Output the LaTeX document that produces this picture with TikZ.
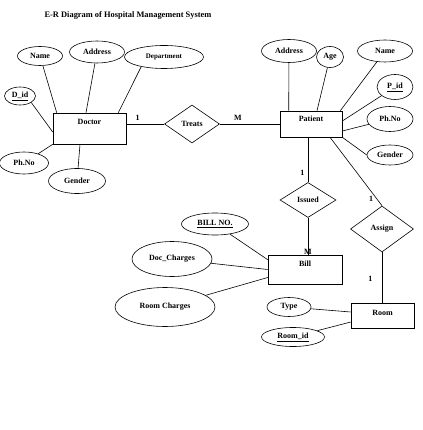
\documentclass[tikz,border=0pt]{standalone}
\usepackage{fontspec}
\setmainfont{Liberation Serif}
\usetikzlibrary{shapes.geometric}

\begin{document}
\begin{tikzpicture}[x=1pt,y=-1pt,font=\bfseries\fontsize{8}{9}\selectfont,
	entity/.style={draw,rectangle,inner sep=0pt,line width=0.6pt},
	attr/.style={draw,ellipse,inner sep=0pt,line width=0.6pt},
	rel/.style={draw,diamond,inner sep=0pt,line width=0.6pt},
	every edge/.style={draw,line width=0.6pt}]

\useasboundingbox (0,0) rectangle (422,430);

\node (title) at (128,15) {\fontsize{8.4}{9}\selectfont E-R Diagram of Hospital Management System};

% doctor
\node[entity,minimum width=73pt,text height=12pt,text depth=19pt] (doctor) at (89.5,128.5) {Doctor};
 \node[attr,minimum width=45pt,minimum height=19pt] (d_name)   at (40,56)  {Name};
 \node[attr,minimum width=55pt,minimum height=22pt] (d_addr)   at (97,52)  {Address};
 \node[attr,minimum width=79pt,minimum height=23pt,font=\bfseries\fontsize{7}{8}\selectfont] (d_dept) at (164,57) {Department};
 \node[attr,minimum width=31pt,minimum height=18pt] (d_id)     at (20,96)  {\underline{D\_id}};
 \node[attr,minimum width=49pt,minimum height=22pt] (d_phno)   at (24,163) {Ph.No};
 \node[attr,minimum width=57pt,minimum height=25pt] (d_gender) at (77,181) {Gender};

\node[rel,minimum width=55pt,minimum height=38pt] (treats) at (192,124) {Treats};

% patient
\node[entity,minimum width=62pt,text height=11pt,text depth=15pt] (patient) at (311,124) {Patient};
 \node[attr,minimum width=55pt,minimum height=23pt] (p_addr)   at (289,51)  {Address};
 \node[attr,minimum width=27pt,minimum height=21pt] (p_age)    at (330,57)  {Age};
 \node[attr,minimum width=55pt,minimum height=22pt] (p_name)   at (385,51)  {Name};
 \node[attr,minimum width=36pt,minimum height=25pt] (p_id)     at (395,87)  {\underline{P\_id}};
 \node[attr,minimum width=46pt,minimum height=25pt] (p_phno)   at (390,119) {Ph.No};
 \node[attr,minimum width=46pt,minimum height=20pt] (p_gender) at (390,155) {Gender};

\node[rel,minimum width=56pt,minimum height=35pt] (issued) at (308,200) {Issued};
\node[rel,minimum width=63pt,minimum height=46pt] (assign) at (382,229) {Assign};

% bill
\node[entity,minimum width=74pt,text height=11pt,text depth=18pt] (bill) at (305,269.5) {Bill};
 \node[attr,minimum width=67pt,minimum height=22pt]  (b_no)   at (215,224) {\underline{BILL NO.}};
 \node[attr,minimum width=80pt,minimum height=35pt]  (b_doc)  at (172,259) {Doc\_Charges};
 \node[attr,minimum width=100pt,minimum height=39pt] (b_room) at (165,307) {Room Charges};

% room
\node[entity,minimum width=63pt,text height=12pt,text depth=13pt] (room) at (382.5,315.5) {Room};
 \node[attr,minimum width=44pt,minimum height=19pt] (r_type) at (289,307) {Type};
 \node[attr,minimum width=63pt,minimum height=19pt] (r_id)   at (293,337) {\underline{Room\_id}};

	\path (d_name)   edge ([xshift=4pt]doctor.north west)
	      (d_addr)   edge ([xshift=-3.5pt]doctor.north)
	      (d_dept.-157) edge ([xshift=-8pt]doctor.north east)
	      (d_id.-30) edge ([yshift=-3.5pt]doctor.west)
	      (d_phno)   edge (doctor.south west)
	      (d_gender) edge ([xshift=-9.5pt]doctor.south)

	      (p_addr)   edge ([xshift=9pt]patient.north west)
	      (p_age)    edge ([xshift=6pt]patient.north)
	      (p_name)   edge ([xshift=-2pt]patient.north east)
	      (p_id)     edge ([yshift=3pt]patient.east)
	      (p_phno)   edge ([yshift=-7pt]patient.east)
	      (p_gender.west) edge (patient.south east)

	      (b_no)     edge ([yshift=-5pt]bill.north west)
	      (b_doc)    edge (bill.west)
	      (b_room)   edge ([yshift=-8pt]bill.west)

	      (r_type)   edge ([yshift=3.5pt]room.west)
	      (r_id)     edge ([yshift=-6.5pt]room.west);

	\path (doctor.east |- treats.west) edge node[pos=0.3,above] {1} (treats.west)
	      (treats)  edge node[pos=0.3,above] {M} (patient)
	      (patient.south -| issued.north) edge node[pos=0.79,left] {1} (issued.north)
	      (issued.south) edge node[pos=1,above,inner sep=0pt] {M} (issued.south |- bill.north)
	      ([xshift=19pt]patient.south) edge node[pos=0.9,left] {1} (assign.north)
	      (assign.south) edge node[pos=0.53,left=6pt] {1} (assign.south |- room.north);
\end{tikzpicture}
\end{document}
